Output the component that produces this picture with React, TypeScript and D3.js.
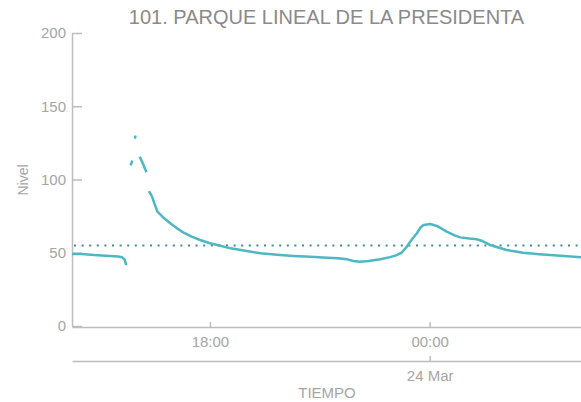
import { useEffect, useRef } from 'react';
import * as d3 from 'd3';

// Sensor readings (nulls are gaps in the record)
const times = [
  '2023-03-23 14:14', '2023-03-23 14:30', '2023-03-23 14:50', '2023-03-23 15:10', '2023-03-23 15:30',
  '2023-03-23 15:36', '2023-03-23 15:40', '2023-03-23 15:43', '2023-03-23 15:46', '2023-03-23 15:50',
  '2023-03-23 15:53', '2023-03-23 15:55', '2023-03-23 15:57', '2023-03-23 15:58', '2023-03-23 16:01',
  '2023-03-23 16:05', '2023-03-23 16:10', '2023-03-23 16:16', '2023-03-23 16:18', '2023-03-23 16:20',
  '2023-03-23 16:25', '2023-03-23 16:30', '2023-03-23 16:34', '2023-03-23 16:45', '2023-03-23 16:55',
  '2023-03-23 17:05', '2023-03-23 17:17', '2023-03-23 17:30', '2023-03-23 17:44', '2023-03-23 18:00',
  '2023-03-23 18:12', '2023-03-23 18:34', '2023-03-23 19:00', '2023-03-23 19:23', '2023-03-23 19:50',
  '2023-03-23 20:17', '2023-03-23 20:45', '2023-03-23 21:12', '2023-03-23 21:30', '2023-03-23 21:45',
  '2023-03-23 21:55', '2023-03-23 22:06', '2023-03-23 22:20', '2023-03-23 22:39', '2023-03-23 22:55',
  '2023-03-23 23:05', '2023-03-23 23:14', '2023-03-23 23:22', '2023-03-23 23:28', '2023-03-23 23:39',
  '2023-03-23 23:45', '2023-03-23 23:50', '2023-03-24 00:01', '2023-03-24 00:12', '2023-03-24 00:28',
  '2023-03-24 00:40', '2023-03-24 00:50', '2023-03-24 01:05', '2023-03-24 01:17', '2023-03-24 01:25',
  '2023-03-24 01:32', '2023-03-24 01:39', '2023-03-24 02:06', '2023-03-24 02:33', '2023-03-24 03:00',
  '2023-03-24 03:17', '2023-03-24 03:40', '2023-03-24 04:08',
];
const levels: (number | null)[] = [
  49.1, 49.2, 48.5, 48.0, 47.4,
  46.9, 45.5, 41.6, null, 109.6,
  113.0, null, 127.8, 130.0, null,
  115.5, 111.0, 105.0, null, 92.0,
  88.5, 82.5, 78.0, 73.5, 70.1,
  67.0, 63.7, 61.0, 58.7, 56.5,
  55.3, 53.0, 51.2, 49.6, 48.6,
  47.8, 47.2, 46.6, 46.2, 45.5,
  44.4, 43.9, 44.4, 45.5, 47.0,
  48.2, 50.0, 53.8, 57.5, 63.3,
  67.2, 68.9, 69.6, 68.3, 64.4,
  62.0, 60.5, 59.7, 59.2, 58.2,
  56.8, 55.3, 51.9, 50.0, 49.0,
  48.5, 47.7, 46.9,
];
const thresholdLevel = 55;
const yTicks = [0, 50, 100, 150, 200];
const hourTicks = ['2023-03-23 18:00', '2023-03-24 00:00'];
const dayTicks = ['2023-03-24 00:00'];

const title = '101. PARQUE LINEAL DE LA PRESIDENTA';

const App = () => {
  const svgRef = useRef<SVGSVGElement>(null);

  useEffect(() => {
    if (!svgRef.current) return;
    const svg = d3.select(svgRef.current);
    svg.selectAll('*').remove();

    const width = 581;
    const height = 402;
    const margin = { top: 33, right: 0, bottom: 76, left: 72 };
    const font = '"Liberation Sans", Arial, sans-serif';
    const parse = d3.timeParse('%Y-%m-%d %H:%M');

    const data = times.map((t, i) => ({ date: parse(t) as Date, value: levels[i] }));

    const x = d3.scaleTime()
      .domain(d3.extent(data, d => d.date) as [Date, Date])
      .range([margin.left, width - margin.right]);

    const y = d3.scaleLinear()
      .domain([0, 200])
      .range([height - margin.bottom, margin.top]);

    // Title
    svg.append('text')
      .attr('x', (margin.left + width) / 2)
      .attr('y', 24)
      .attr('text-anchor', 'middle')
      .attr('fill', '#8a8a8a')
      .style('font', `20px ${font}`)
      .text(title);

    // Y axis (ticks point inward)
    const yAxis = svg.append('g')
      .attr('transform', `translate(${margin.left},0)`)
      .call(d3.axisLeft(y).tickValues(yTicks).tickSizeInner(-10).tickSizeOuter(0).tickPadding(6));

    // Threshold line
    svg.append('line')
      .attr('x1', margin.left + 2)
      .attr('x2', width)
      .attr('y1', y(thresholdLevel))
      .attr('y2', y(thresholdLevel))
      .attr('stroke', '#3d8ba0')
      .attr('stroke-width', 2)
      .attr('stroke-dasharray', '2,5.6');

    // Hour axis
    const xAxis = svg.append('g')
      .attr('transform', `translate(0,${height - margin.bottom + 1})`)
      .call(d3.axisBottom(x)
        .tickValues(hourTicks.map(t => parse(t) as Date))
        .tickFormat(d => d3.timeFormat('%H:%M')(d as Date))
        .tickSizeInner(-5).tickSizeOuter(0).tickPadding(9.5));

    // Day axis
    const dayAxis = svg.append('g')
      .attr('transform', `translate(0,${height - margin.bottom + 35})`)
      .call(d3.axisBottom(x)
        .tickValues(dayTicks.map(t => parse(t) as Date))
        .tickFormat(d => d3.timeFormat('%-d %b')(d as Date))
        .tickSizeInner(-5).tickSizeOuter(0).tickPadding(9));

    [yAxis, xAxis, dayAxis].forEach(g => {
      g.selectAll('path, line').attr('stroke', '#bdbdbd').attr('stroke-width', 1.5);
      g.selectAll('text').attr('fill', '#a5a5a5').style('font', `15px ${font}`);
    });

    // Axis titles
    svg.append('text')
      .attr('transform', `translate(28,180) rotate(-90)`)
      .attr('text-anchor', 'middle')
      .attr('fill', '#a5a5a5')
      .style('font', `14px ${font}`)
      .text('Nivel');

    svg.append('text')
      .attr('x', 327)
      .attr('y', 398)
      .attr('text-anchor', 'middle')
      .attr('fill', '#a5a5a5')
      .style('font', `15px ${font}`)
      .text('TIEMPO');

    // Level line
    const line = d3.line<{ date: Date; value: number | null }>()
      .defined(d => d.value !== null)
      .x(d => x(d.date))
      .y(d => y(d.value as number));

    svg.append('path')
      .datum(data)
      .attr('d', line)
      .attr('fill', 'none')
      .attr('stroke', '#4fb7c3')
      .attr('stroke-width', 2.5)
      .attr('stroke-linejoin', 'round');
  }, []);

  return (
    <svg
      ref={svgRef}
      width={581}
      height={402}
      style={{ position: 'absolute', left: 0, top: 0, background: '#fff' }}
    />
  );
};

export default App;
